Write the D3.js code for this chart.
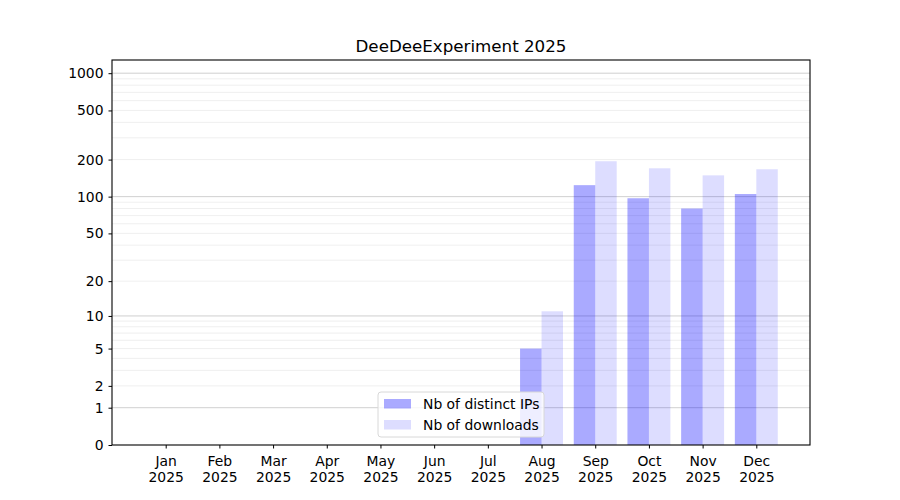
<!DOCTYPE html>
<html>
<head>
<meta charset="utf-8">
<script src="https://cdn.jsdelivr.net/npm/d3@7"></script>
<style>
  body { margin: 0; background: #fff; }
  text { font-family: "DejaVu Sans", sans-serif; fill: #000; }
</style>
</head>
<body>
<svg id="canvas" width="900" height="500"></svg>
<script>
// chart data
const months = ['Jan', 'Feb', 'Mar', 'Apr', 'May', 'Jun', 'Jul', 'Aug', 'Sep', 'Oct', 'Nov', 'Dec'];
const year = '2025';
const distinctIPs = [0, 0, 0, 0, 0, 0, 0, 5, 124, 97, 80, 105];
const downloads = [0, 0, 0, 0, 0, 0, 0, 11, 194, 170, 149, 167];
const yTicks = [0, 1, 2, 5, 10, 20, 50, 100, 200, 500, 1000];
const majorGrid = [1, 10, 100, 1000];
const minorGrid = [2, 3, 4, 5, 6, 7, 8, 9, 20, 30, 40, 50, 60, 70, 80, 90, 200, 300, 400, 500, 600, 700, 800, 900];
const seriesNames = ['Nb of distinct IPs', 'Nb of downloads'];

const plotLeft = 112, plotRight = 810, plotTop = 60, plotBottom = 445;
const fontSize = '13.9px';
const canvas = d3.select('#canvas');

const x = d3.scaleLinear().domain([-1, 12]).range([plotLeft, plotRight]);
// log10(x+1) style axis -> symlog with constant 1
const y = d3.scaleSymlog().constant(1).domain([0, 1278]).range([plotBottom, plotTop]);

// grid lines (minor first, then major)
canvas.selectAll('line.minor')
  .data(minorGrid)
  .enter()
  .append('line')
  .attr('x1', plotLeft).attr('x2', plotRight)
  .attr('y1', d => y(d)).attr('y2', d => y(d))
  .attr('stroke', '#ebebeb').attr('stroke-width', 0.8);

canvas.selectAll('line.major')
  .data(majorGrid)
  .enter()
  .append('line')
  .attr('x1', plotLeft).attr('x2', plotRight)
  .attr('y1', d => y(d)).attr('y2', d => y(d))
  .attr('stroke', '#c4c4c4').attr('stroke-width', 0.8);

const barW = x(0.4) - x(0);

// bars: distinct IPs on the left, downloads on the right
canvas.selectAll('rect.ips')
  .data(distinctIPs)
  .enter()
  .append('rect')
  .attr('x', (d, i) => x(i - 0.4))
  .attr('y', d => y(d))
  .attr('width', barW)
  .attr('height', d => plotBottom - y(d))
  .attr('fill', 'blue')
  .attr('fill-opacity', 0.333);

canvas.selectAll('rect.dl')
  .data(downloads)
  .enter()
  .append('rect')
  .attr('x', (d, i) => x(i))
  .attr('y', d => y(d))
  .attr('width', barW)
  .attr('height', d => plotBottom - y(d))
  .attr('fill', 'blue')
  .attr('fill-opacity', 0.133);

// axes
const yAxis = canvas.append('g')
  .attr('transform', `translate(${plotLeft}, 0)`)
  .call(d3.axisLeft(y).tickValues(yTicks).tickFormat(d3.format('d')).tickSizeInner(3.5).tickSizeOuter(0).tickPadding(5));

const xAxis = canvas.append('g')
  .attr('transform', `translate(0, ${plotBottom})`)
  .call(d3.axisBottom(x).tickValues(d3.range(12)).tickFormat('').tickSizeInner(3.5).tickSizeOuter(0));

[yAxis, xAxis].forEach(g => {
  g.selectAll('.domain').remove();
  g.selectAll('line').attr('stroke', '#000').attr('stroke-width', 1);
  g.selectAll('text').style('font-size', fontSize).style('font-family', '"DejaVu Sans", sans-serif');
});

// two-line month labels
xAxis.selectAll('.tick').append('text')
  .attr('y', 20.5)
  .attr('text-anchor', 'middle')
  .style('font-size', fontSize)
  .attr('fill', '#000')
  .each(function(d) {
    const t = d3.select(this);
    t.append('tspan').attr('x', 0).text(months[d]);
    t.append('tspan').attr('x', 0).attr('dy', 16).text(year);
  });

// frame
canvas.append('rect')
  .attr('x', plotLeft).attr('y', plotTop)
  .attr('width', plotRight - plotLeft).attr('height', plotBottom - plotTop)
  .attr('fill', 'none').attr('stroke', '#000').attr('stroke-width', 1.1);

// title
canvas.append('text')
  .attr('x', (plotLeft + plotRight) / 2)
  .attr('y', 52)
  .attr('text-anchor', 'middle')
  .style('font-size', '16.7px')
  .text('DeeDeeExperiment 2025');

// legend
const legend = canvas.append('g').attr('transform', 'translate(378, 392)');
legend.append('rect')
  .attr('width', 166).attr('height', 45)
  .attr('rx', 3)
  .attr('fill', '#fff').attr('fill-opacity', 0.8)
  .attr('stroke', '#d8d8d8').attr('stroke-width', 1);

legend.selectAll('rect.key')
  .data(seriesNames)
  .enter()
  .append('rect')
  .attr('x', 6)
  .attr('y', (d, i) => 7 + i * 21)
  .attr('width', 27)
  .attr('height', 9.5)
  .attr('fill', 'blue')
  .attr('fill-opacity', (d, i) => i === 0 ? 0.333 : 0.133);

legend.selectAll('text')
  .data(seriesNames)
  .enter()
  .append('text')
  .attr('x', 45)
  .attr('y', (d, i) => 17 + i * 21)
  .style('font-size', fontSize)
  .text(d => d);
</script>
</body>
</html>
